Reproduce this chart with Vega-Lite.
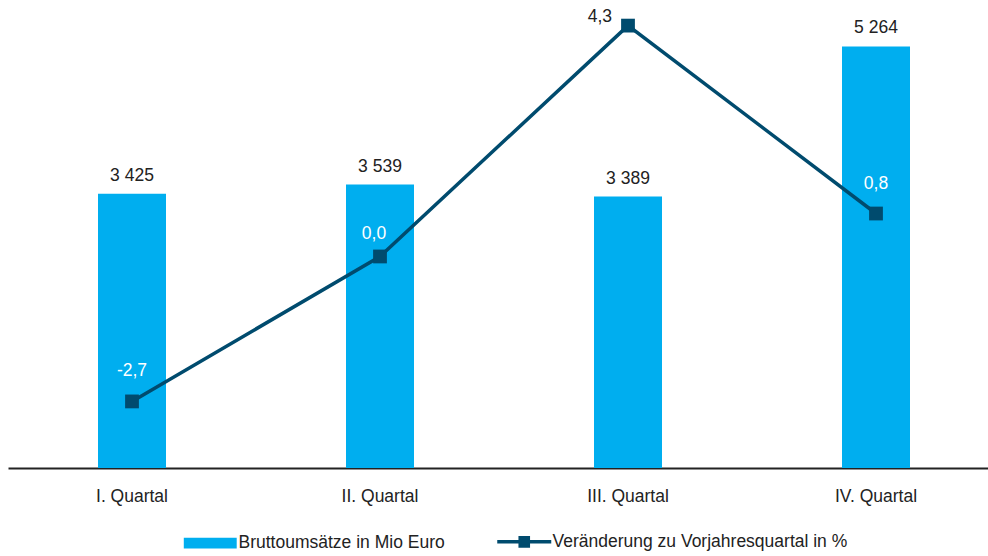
{
  "$schema": "https://vega.github.io/schema/vega-lite/v6.json",
  "width": 992,
  "height": 468,
  "padding": {"left": 8, "top": 0, "right": 0, "bottom": 0},
  "background": "white",
  "config": {
    "font": "Liberation Sans",
    "view": {"stroke": null},
    "locale": {"number": {"decimal": ",", "thousands": " ", "grouping": [3], "currency": ["", " €"], "minus": "-"}},
    "text": {"font": "Liberation Sans"}
  },
  "data": {
    "values": [
      {"q": "I. Quartal", "umsatz": 3425, "veraenderung": -2.7},
      {"q": "II. Quartal", "umsatz": 3539, "veraenderung": 0.0},
      {"q": "III. Quartal", "umsatz": 3389, "veraenderung": 4.3},
      {"q": "IV. Quartal", "umsatz": 5264, "veraenderung": 0.8}
    ]
  },
  "encoding": {
    "x": {
      "field": "q", "type": "nominal", "sort": null,
      "scale": {"paddingInner": 0, "paddingOuter": 0},
      "axis": {
        "title": null, "labelAngle": 0, "ticks": false, "grid": false,
        "domainColor": "#222222", "domainWidth": 2,
        "labelFontSize": 17.5, "labelColor": "#222222", "labelPadding": 19
      }
    }
  },
  "layer": [
    {
      "mark": {"type": "bar", "width": 68},
      "encoding": {
        "y": {"field": "umsatz", "type": "quantitative", "scale": {"domain": [0, 5843], "nice": false}, "axis": null},
        "color": {
          "datum": "Bruttoumsätze in Mio Euro",
          "scale": {"domain": ["Bruttoumsätze in Mio Euro", "Veränderung zu Vorjahresquartal in %"], "range": ["#00AEEF", "#004B6E"]},
          "legend": {
            "title": null, "orient": "none", "direction": "horizontal",
            "legendX": 193.5, "legendY": 533,
            "symbolSize": 2916, "columnPadding": 44,
            "labelFontSize": 17.5, "labelColor": "#222222", "labelLimit": 500, "labelOffset": 19.5,
            "encode": {
              "symbols": {
                "update": {
                  "size": {"value": 2916},
                  "shape": {"signal": "datum.value == 'Bruttoumsätze in Mio Euro' ? 'M-0.98,-0.2H0.98V0.2H-0.98Z' : 'M-1,0H-0.15M0.15,0H1M-0.15,-0.15H0.15V0.15H-0.15Z'"},
                  "fill": {"signal": "datum.value == 'Bruttoumsätze in Mio Euro' ? '#00AEEF' : '#004B6E'"},
                  "stroke": {"signal": "datum.value == 'Bruttoumsätze in Mio Euro' ? '#00AEEF' : '#004B6E'"},
                  "strokeWidth": {"signal": "datum.value == 'Bruttoumsätze in Mio Euro' ? 0 : 3.5"},
                  "opacity": {"value": 1},
                  "fillOpacity": {"value": 1},
                  "strokeOpacity": {"value": 1}
                }
              }
            }
          }
        }
      }
    },
    {
      "mark": {"type": "text", "dy": -13, "baseline": "alphabetic", "fontSize": 17.5, "color": "#222222"},
      "encoding": {
        "y": {"field": "umsatz", "type": "quantitative", "scale": {"domain": [0, 5843], "nice": false}, "axis": null},
        "text": {"field": "umsatz", "type": "quantitative", "format": ",.0f"}
      }
    },
    {
      "mark": {"type": "line", "strokeWidth": 3.5, "point": {"shape": "square", "size": 190, "filled": true, "opacity": 1}},
      "encoding": {
        "y": {"field": "veraenderung", "type": "quantitative", "scale": {"domain": [-3.94, 4.777], "nice": false, "zero": false}, "axis": null},
        "color": {"datum": "Veränderung zu Vorjahresquartal in %"}
      }
    },
    {
      "transform": [{"filter": "datum.q == 'I. Quartal' || datum.q == 'IV. Quartal'"}],
      "mark": {"type": "text", "dy": -25, "baseline": "alphabetic", "fontSize": 17.5, "color": "white"},
      "encoding": {
        "y": {"field": "veraenderung", "type": "quantitative", "scale": {"domain": [-3.94, 4.777], "nice": false, "zero": false}, "axis": null},
        "text": {"field": "veraenderung", "type": "quantitative", "format": ".1f"}
      }
    },
    {
      "transform": [{"filter": "datum.q == 'II. Quartal'"}],
      "mark": {"type": "text", "dy": -17, "dx": -6, "baseline": "alphabetic", "fontSize": 17.5, "color": "white"},
      "encoding": {
        "y": {"field": "veraenderung", "type": "quantitative", "scale": {"domain": [-3.94, 4.777], "nice": false, "zero": false}, "axis": null},
        "text": {"field": "veraenderung", "type": "quantitative", "format": ".1f"}
      }
    },
    {
      "transform": [{"filter": "datum.q == 'III. Quartal'"}],
      "mark": {"type": "text", "dy": -4, "dx": -16, "align": "right", "baseline": "alphabetic", "fontSize": 17.5, "color": "#222222"},
      "encoding": {
        "y": {"field": "veraenderung", "type": "quantitative", "scale": {"domain": [-3.94, 4.777], "nice": false, "zero": false}, "axis": null},
        "text": {"field": "veraenderung", "type": "quantitative", "format": ".1f"}
      }
    }
  ],
  "resolve": {"scale": {"y": "independent"}}
}
